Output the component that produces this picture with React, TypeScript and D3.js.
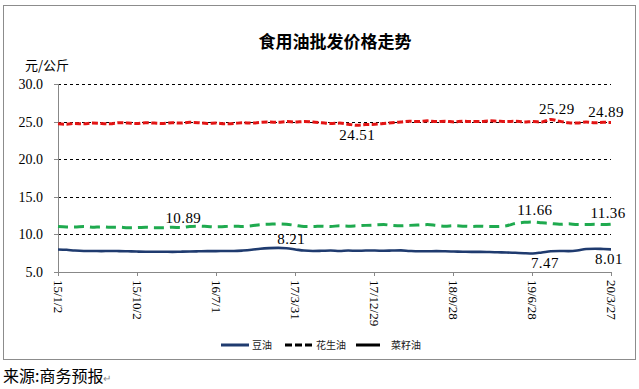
import React from 'react';
import * as d3 from 'd3';

// monthly samples (first point 15/1/2, last 20/3/27)
const dates = [
  '2015-01-02', '2015-02-01', '2015-03-01', '2015-04-01', '2015-05-01', '2015-06-01',
  '2015-07-01', '2015-08-01', '2015-09-01', '2015-10-01', '2015-11-01', '2015-12-01',
  '2016-01-01', '2016-02-01', '2016-03-01', '2016-04-01', '2016-05-01', '2016-06-01',
  '2016-07-01', '2016-08-01', '2016-09-01', '2016-10-01', '2016-11-01', '2016-12-01',
  '2017-01-01', '2017-02-01', '2017-03-01', '2017-04-01', '2017-05-01', '2017-06-01',
  '2017-07-01', '2017-08-01', '2017-09-01', '2017-10-01', '2017-11-01', '2017-12-01',
  '2018-01-01', '2018-02-01', '2018-03-01', '2018-04-01', '2018-05-01', '2018-06-01',
  '2018-07-01', '2018-08-01', '2018-09-01', '2018-10-01', '2018-11-01', '2018-12-01',
  '2019-01-01', '2019-02-01', '2019-03-01', '2019-04-01', '2019-05-01', '2019-06-01',
  '2019-07-01', '2019-08-01', '2019-09-01', '2019-10-01', '2019-11-01', '2019-12-01',
  '2020-01-01', '2020-02-01', '2020-03-01', '2020-03-27'
];

// 花生油 (red dashed)
const peanut = [
  24.70, 24.65, 24.75, 24.70, 24.80, 24.75, 24.70, 24.85, 24.80, 24.75, 24.85, 24.80,
  24.75, 24.85, 24.80, 24.90, 24.85, 24.75, 24.80, 24.70, 24.75, 24.85, 24.80, 24.90,
  24.95, 24.90, 25.00, 24.95, 25.00, 24.95, 24.85, 24.75, 24.80, 24.65, 24.51, 24.60,
  24.65, 24.75, 24.85, 24.95, 25.05, 25.00, 25.10, 25.00, 25.05, 24.95, 25.05, 25.00,
  25.00, 25.10, 25.05, 25.00, 25.05, 24.95, 25.00, 24.95, 25.29, 25.05, 24.85, 24.80,
  24.95, 24.85, 24.90, 24.89
];

// 菜籽油 (green dashed)
const rapeseed = [
  11.05, 11.00, 11.00, 11.05, 10.95, 11.00, 10.95, 10.95, 10.90, 10.90, 10.95, 10.90,
  10.89, 10.95, 10.90, 11.05, 11.10, 11.05, 11.00, 11.05, 11.10, 11.05, 11.15, 11.30,
  11.35, 11.40, 11.35, 11.20, 11.05, 11.05, 11.10, 11.05, 11.15, 11.10, 11.15, 11.20,
  11.25, 11.30, 11.20, 11.15, 11.20, 11.25, 11.30, 11.20, 11.10, 11.15, 11.10, 11.05,
  11.10, 11.05, 11.05, 11.15, 11.45, 11.60, 11.66, 11.55, 11.45, 11.35, 11.40, 11.30,
  11.30, 11.35, 11.30, 11.36
];

// 豆油 (navy solid)
const soybean = [
  8.00, 7.95, 7.85, 7.80, 7.80, 7.78, 7.80, 7.78, 7.75, 7.72, 7.70, 7.70,
  7.70, 7.68, 7.70, 7.72, 7.75, 7.78, 7.78, 7.80, 7.80, 7.85, 7.95, 8.10,
  8.18, 8.21, 8.15, 8.00, 7.85, 7.80, 7.82, 7.85, 7.80, 7.85, 7.82, 7.85,
  7.85, 7.82, 7.85, 7.88, 7.80, 7.75, 7.75, 7.78, 7.75, 7.72, 7.70, 7.68,
  7.68, 7.65, 7.62, 7.60, 7.55, 7.50, 7.47, 7.60, 7.75, 7.80, 7.78, 7.85,
  8.05, 8.10, 8.05, 8.01
];

const tickDates = ['2015-01-02', '2015-10-02', '2016-07-01', '2017-03-31', '2017-12-29', '2018-09-28', '2019-06-28', '2020-03-27'];
const tickLabels = ['15/1/2', '15/10/2', '16/7/1', '17/3/31', '17/12/29', '18/9/28', '19/6/28', '20/3/27'];
const yTicks = [5, 10, 15, 20, 25, 30];

const legendItems = [
  { name: '豆油', color: '#1f3b6f', dash: '', x: 221, len: 28 },
  { name: '花生油', color: '#000', dash: '7,3', x: 285, len: 28 },
  { name: '菜籽油', color: '#000', dash: '', x: 356, len: 24 }
];

const parse = d3.timeParse('%Y-%m-%d');

const App: React.FC = () => {
  const width = 639;
  const height = 389;
  const plot = { left: 58, right: 611, top: 84, bottom: 272 };

  const x = d3.scaleTime()
    .domain([parse(dates[0])!, parse(dates[dates.length - 1])!])
    .range([plot.left, plot.right]);
  const y = d3.scaleLinear().domain([5, 30]).range([plot.bottom, plot.top]);

  const mkLine = (vals: number[]) =>
    d3.line<number>()
      .x((_, i) => x(parse(dates[i])!))
      .y(d => y(d))
      .curve(d3.curveMonotoneX)(vals) || '';

  const series = [
    { vals: soybean, color: '#1f3b6f', dash: '', w: 2.6 },
    { vals: rapeseed, color: '#1faa4f', dash: '10,6', w: 3 },
    { vals: peanut, color: '#e31414', dash: '6,2.5', w: 3 }
  ];

  // data labels: which series, which date, offset of the text
  const notes = [
    { vals: peanut, date: '2017-11-01', text: '24.51', dx: 0, dy: 15 },
    { vals: peanut, date: '2019-09-01', text: '25.29', dx: 6, dy: -5 },
    { vals: peanut, date: '2020-03-27', text: '24.89', dx: -5, dy: -5 },
    { vals: rapeseed, date: '2016-01-01', text: '10.89', dx: 20, dy: -5 },
    { vals: rapeseed, date: '2019-07-01', text: '11.66', dx: 2, dy: -7 },
    { vals: rapeseed, date: '2020-03-27', text: '11.36', dx: -3, dy: -6 },
    { vals: soybean, date: '2017-02-01', text: '8.21', dx: 13, dy: -4 },
    { vals: soybean, date: '2019-07-01', text: '7.47', dx: 12, dy: 15 },
    { vals: soybean, date: '2020-03-27', text: '8.01', dx: -2, dy: 15 }
  ];

  const serif = '"Liberation Serif", "DejaVu Serif", serif';
  const cjk = '"Noto Sans CJK SC", sans-serif';

  return (
    <div style={{ position: 'absolute', left: 0, top: 0, background: '#fff' }}>
      <svg width={width} height={height} style={{ display: 'block' }}>
        <rect x={0} y={0} width={width} height={height} fill="#fff" />
        <rect x={3.5} y={5.5} width={632} height={354} fill="none" stroke="#8c8c8c" strokeWidth={1} />

        <text x={335} y={48} textAnchor="middle" fontFamily={cjk} fontWeight="bold" fontSize={17} fill="#000">
          食用油批发价格走势
        </text>
        <text x={25} y={70} fontFamily={cjk} fontSize={13} fill="#000">元/公斤</text>

        {/* gridlines */}
        {yTicks.filter(t => t > 5).map(t => (
          <line key={t} x1={plot.left} x2={plot.right} y1={Math.round(y(t)) + 0.5} y2={Math.round(y(t)) + 0.5}
            stroke="#000" strokeWidth={1} strokeDasharray="3,3" />
        ))}

        {/* y axis */}
        <line x1={plot.left + 0.5} x2={plot.left + 0.5} y1={plot.top} y2={plot.bottom} stroke="#888" />
        {yTicks.map(t => (
          <g key={t}>
            <line x1={plot.left - 4} x2={plot.left} y1={Math.round(y(t)) + 0.5} y2={Math.round(y(t)) + 0.5} stroke="#888" />
            <text x={43} y={y(t)} dy="0.35em" textAnchor="end" fontFamily={serif} fontSize={14} fill="#000">
              {d3.format('.1f')(t)}
            </text>
          </g>
        ))}

        {/* x axis */}
        <line x1={plot.left} x2={plot.right + 1} y1={plot.bottom + 0.5} y2={plot.bottom + 0.5} stroke="#888" />
        {tickDates.map((d, i) => {
          const tx = Math.round(x(parse(d)!)) + 0.5;
          return (
            <g key={d}>
              <line x1={tx} x2={tx} y1={plot.bottom} y2={plot.bottom + 4} stroke="#888" />
              <text transform={`translate(${tx},${plot.bottom + 8}) rotate(90)`} dy="0.35em"
                fontFamily={serif} fontSize={13} fill="#000">
                {tickLabels[i]}
              </text>
            </g>
          );
        })}

        {/* series */}
        {series.map((s, i) => (
          <path key={i} d={mkLine(s.vals)} fill="none" stroke={s.color} strokeWidth={s.w}
            strokeDasharray={s.dash || undefined} strokeLinejoin="round" />
        ))}

        {/* data labels */}
        {notes.map((n, i) => {
          const idx = dates.indexOf(n.date);
          return (
            <text key={i} x={x(parse(n.date)!) + n.dx} y={y(n.vals[idx]) + n.dy} textAnchor="middle"
              fontFamily={serif} fontSize={15} letterSpacing={0.4} fill="#000">
              {n.text}
            </text>
          );
        })}

        {/* legend */}
        {legendItems.map(l => (
          <g key={l.name}>
            <line x1={l.x} x2={l.x + l.len} y1={345} y2={345} stroke={l.color} strokeWidth={3}
              strokeDasharray={l.dash || undefined} />
            <text x={l.x + l.len + (l.name === '菜籽油' ? 11 : 3)} y={345} dy="0.35em" fontFamily={cjk}
              fontSize={10} fill="#222">
              {l.name}
            </text>
          </g>
        ))}

        <text x={3} y={382} fontFamily={cjk} fontSize={16} fill="#000">
          来源:商务预报<tspan fontSize={10} fill="#888">↵</tspan>
        </text>
      </svg>
    </div>
  );
};

export default App;
